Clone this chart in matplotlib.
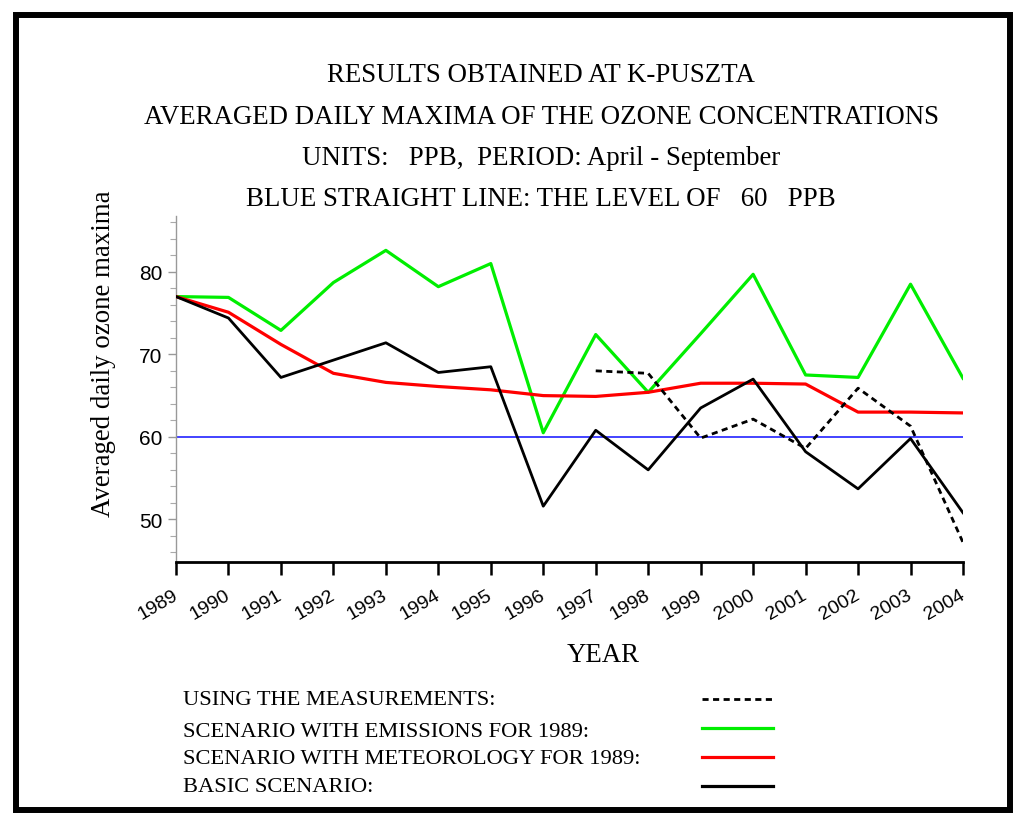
import matplotlib
matplotlib.use("Agg")
import matplotlib.pyplot as plt
from matplotlib.lines import Line2D
from matplotlib.patches import Rectangle
from matplotlib.ticker import MultipleLocator
import matplotlib.transforms as mtransforms

years = list(range(1989, 2005))
emissions_1989 = [77.0, 76.9, 72.9, 78.7, 82.6, 78.2, 81.0, 60.5, 72.4, 65.4, 72.5, 79.7, 67.5, 67.2, 78.5, 67.1]
meteorology_1989 = [77.0, 75.1, 71.2, 67.7, 66.6, 66.1, 65.7, 65.0, 64.9, 65.4, 66.5, 66.5, 66.4, 63.0, 63.0, 62.9]
basic = [77.0, 74.4, 67.2, 69.3, 71.4, 67.8, 68.5, 51.6, 60.8, 56.0, 63.5, 67.0, 58.2, 53.7, 59.8, 50.8]
meas_years = list(range(1997, 2005))
measurements = [68.0, 67.7, 59.85, 62.15, 58.6, 65.9, 61.3, 47.2]
level = 60

title_lines = [
    "RESULTS OBTAINED AT K-PUSZTA",
    "AVERAGED DAILY MAXIMA OF THE OZONE CONCENTRATIONS",
    "UNITS:   PPB,  PERIOD: April - September",
    "BLUE STRAIGHT LINE: THE LEVEL OF   60   PPB",
]
legend_labels = [
    "USING THE MEASUREMENTS:",
    "SCENARIO WITH EMISSIONS FOR 1989:",
    "SCENARIO WITH METEOROLOGY FOR 1989:",
    "BASIC SCENARIO:",
]

W, H = 1024, 829
fig = plt.figure(figsize=(W / 100, H / 100), dpi=100)
serif = "Liberation Serif"
sans = "Liberation Sans"

# outer frame
fig.patches.append(Rectangle((16.3 / W, 1 - 811 / H), (1009.7 - 16.3) / W, (811 - 16.3) / H,
                             transform=fig.transFigure, fill=False, lw=4.3, ec="black"))

ax = fig.add_axes([176 / W, 1 - 563.3 / H, (963 - 176) / W, (563.3 - 216.7) / H])
ax.set_xlim(1989, 2004)
ax.set_ylim(44.8, 86.8)

ax.axhline(level, color="#1010ff", lw=1.1, zorder=1)
ax.plot(years, emissions_1989, color="#00ee00", lw=2.3, zorder=2)
ax.plot(years, meteorology_1989, color="#ff0000", lw=2.3, zorder=3)
ax.plot(meas_years, measurements, color="black", lw=2.0, ls=(0, (2.2, 1.6)), zorder=4)
ax.plot(years, basic, color="black", lw=2.0, zorder=5)

for s in ["top", "right"]:
    ax.spines[s].set_visible(False)
ax.spines["left"].set_color("#999999")
ax.spines["left"].set_linewidth(1.0)
ax.spines["bottom"].set_color("black")
ax.spines["bottom"].set_linewidth(2.0)

ax.set_xticks(years)
ax.set_xticklabels([str(y) for y in years], rotation=30, ha="right", rotation_mode="anchor",
                   fontfamily=sans, fontsize=14)
ax.tick_params(axis="x", direction="out", length=9, width=1.8, color="black", pad=8)
offset = mtransforms.ScaledTranslation(-4 / 100, 0, fig.dpi_scale_trans)
for lab in ax.get_xticklabels():
    lab.set_transform(lab.get_transform() + offset)

ax.yaxis.set_major_locator(MultipleLocator(10))
ax.yaxis.set_minor_locator(MultipleLocator(2))
ax.set_yticks([50, 60, 70, 80])
ax.tick_params(axis="y", which="major", direction="out", length=6, width=1.0, color="#999999", pad=4)
ax.tick_params(axis="y", which="minor", direction="out", length=4, width=0.8, color="#aaaaaa")
for lab in ax.get_yticklabels():
    lab.set_fontfamily(sans)
    lab.set_fontsize(15)

fig.text(104 / W, 1 - 354 / H, "Averaged daily ozone maxima", rotation=90, ha="center", va="center",
         fontfamily=serif, fontsize=19.4)
fig.text(603 / W, 1 - 656 / H, "YEAR", ha="center", va="center", fontfamily=serif, fontsize=19.4)

title_base = [82, 124.5, 165, 206]
for t, y in zip(title_lines, title_base):
    fig.text(541 / W, 1 - y / H, t, ha="center", va="baseline", fontfamily=serif, fontsize=19.4)

leg_text_base = [705, 737, 764, 792]
leg_line_y = [700, 729, 758, 787]
styles = [dict(color="black", lw=2.0, ls=(0, (2.2, 1.6))),
          dict(color="#00ee00", lw=2.3),
          dict(color="#ff0000", lw=2.3),
          dict(color="black", lw=2.3)]
for lab, ty, ly, st in zip(legend_labels, leg_text_base, leg_line_y, styles):
    fig.text(183 / W, 1 - ty / H, lab, ha="left", va="baseline", fontfamily=serif, fontsize=16.2)
    fig.lines.append(Line2D([702 / W, 773 / W], [1 - ly / H, 1 - ly / H], transform=fig.transFigure, **st))

fig.savefig("out.png", dpi=100)
